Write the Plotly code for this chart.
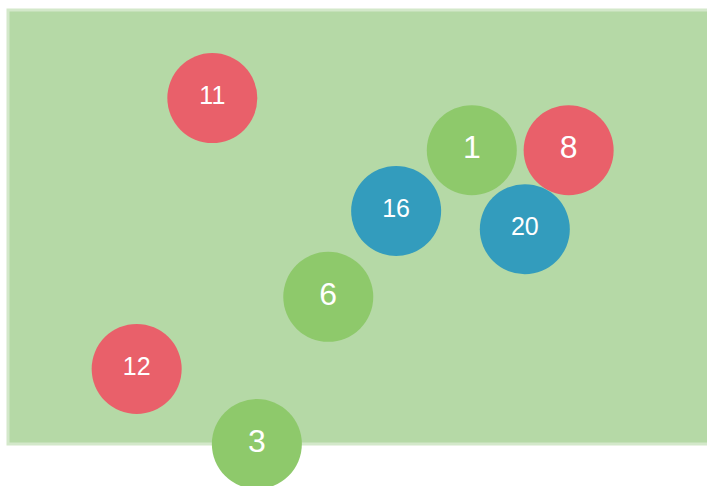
import plotly.graph_objects as go

labels = ["11", "1", "8", "16", "20", "6", "12", "3"]
x_vals = [28.9, 65.6, 79.3, 54.9, 73.1, 45.3, 18.2, 35.2]
y_vals = [79.7, 67.7, 67.7, 53.7, 49.5, 33.9, 17.3, 0.0]
groups = ["red", "green", "red", "blue", "blue", "green", "red", "green"]

palette = {"red": "#E9606A", "green": "#8EC96B", "blue": "#339CBD"}
colors = [palette[g] for g in groups]
font_sizes = [25 if len(l) > 1 else 32 for l in labels]

fig = go.Figure(go.Scatter(
    x=x_vals, y=y_vals, mode="markers+text",
    text=labels, textposition="middle center",
    textfont=dict(color="white", size=font_sizes, family="Liberation Sans, Arial, sans-serif"),
    marker=dict(size=90, color=colors, line=dict(width=0), opacity=1),
    cliponaxis=False, hoverinfo="skip",
))

# plot area spans x 8..715 (clipped by window at 707), y 10..444
fig.update_layout(
    width=715, height=486,
    margin=dict(l=8, r=0, t=10, b=42),
    paper_bgcolor="white", plot_bgcolor="#B5D9A6",
    showlegend=False,
    xaxis=dict(range=[0, 100], visible=False, showgrid=False, zeroline=False),
    yaxis=dict(range=[0, 100], visible=False, showgrid=False, zeroline=False),
    shapes=[dict(type="rect", xref="paper", yref="paper", x0=0, x1=1, y0=0, y1=1,
                 line=dict(color="#D3E8CA", width=3), layer="below")],
)

fig.write_html("out.html",
               config={"displayModeBar": False},
               post_script="document.body.style.margin='0';document.body.style.overflow='hidden';")
